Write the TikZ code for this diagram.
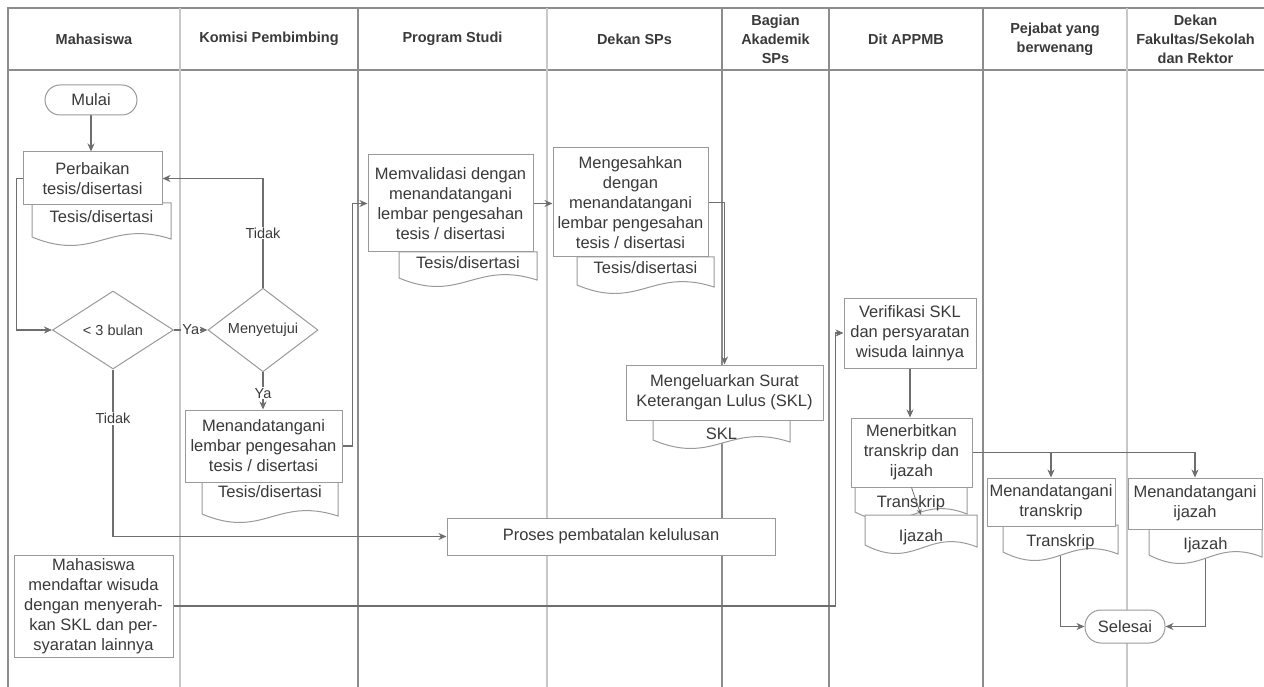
\documentclass[tikz,border=0pt]{standalone}
\usepackage{fontspec}
\setmainfont{Liberation Sans}
\usetikzlibrary{shapes.geometric,arrows.meta,calc}

\pgfdeclarelayer{lanes}
\pgfdeclarelayer{wires}
\pgfdeclarelayer{docs}
\pgfsetlayers{lanes,wires,docs,main}

\definecolor{laneDark}{HTML}{8C8C8C}
\definecolor{laneLight}{HTML}{C8C8C8}
\definecolor{boxLine}{HTML}{9A9A9A}
\definecolor{wire}{HTML}{6E6E6E}
\definecolor{ink}{HTML}{3A3A3A}

\tikzset{
  lanedark/.style={draw=laneDark, line width=1.3pt},
  lanelight/.style={draw=laneLight, line width=1.1pt},
  lanehead/.style={font=\fontsize{14.5}{19}\selectfont\bfseries, text=ink, align=center, inner sep=0pt},
  procbox/.style={draw=boxLine, fill=white, line width=1pt, inner sep=0pt, align=center,
                  text=ink, font=\fontsize{16.5}{20}\selectfont},
  terminal/.style={procbox, rounded corners=15pt},
  decision/.style={diamond, draw=boxLine, fill=white, line width=1pt, inner sep=0pt,
                   text=ink, font=\fontsize{14.5}{18}\selectfont},
  docline/.style={draw=boxLine, fill=white, line width=1pt},
  doctext/.style={text=ink, font=\fontsize{16.5}{20}\selectfont, inner sep=1pt},
  flow/.style={draw=wire, line width=1.3pt, -{Stealth[length=8pt,width=7pt,inset=2.5pt]}},
  thinflow/.style={draw=wire, line width=0.8pt, -{Stealth[length=6pt,width=5pt,inset=2pt]}},
  flowlabel/.style={fill=white, text=ink, font=\fontsize{14.5}{18}\selectfont, inner sep=1pt},
}

% document symbol: name, left, top, right, bottom corner, y of the caption
\newcommand\paperdoc[6]{%
  \begin{pgfonlayer}{docs}
    \path[docline] (#2,#3) -- (#4,#3) -- (#4,{#5+2})
      .. controls ({#2+0.55*(#4-#2)},{#5-18}) and ({#2+0.45*(#4-#2)},{#5+26}) .. (#2,#5) -- cycle;
  \end{pgfonlayer}
  \coordinate (#1-n) at ({(#2+#4)/2},#3);
  \node[doctext] (#1) at ({(#2+#4)/2},#6)}

\begin{document}
\begin{tikzpicture}[x=1pt,y=-1pt]
\useasboundingbox (0,0) rectangle (1264,687);

% swimlanes
\begin{pgfonlayer}{lanes}
  \draw[lanedark] (8,687) -- (8,8) -- (1264,8);
  \draw[lanedark] (8,70) -- (1264,70);
  \draw[lanelight] (180,8) -- (180,687);
  \draw[lanedark]  (358,8) -- (358,687);
  \draw[lanelight] (547,8) -- (547,687);
  \draw[lanedark]  (722,8) -- (722,687);
  \draw[lanedark]  (829,8) -- (829,687);
  \draw[lanedark]  (983,8) -- (983,687);
  \draw[lanelight] (1127,8) -- (1127,687);
\end{pgfonlayer}

\node[lanehead] (h1) at (94,39) {Mahasiswa};
\node[lanehead] (h2) at (269,39) {Komisi Pembimbing};
\node[lanehead] (h3) at (452.5,39) {Program Studi};
\node[lanehead] (h4) at (634.5,39) {Dekan SPs};
\node[lanehead] (h5) at (775.5,39) {Bagian\\Akademik\\SPs};
\node[lanehead] (h6) at (906,39) {Dit APPMB};
\node[lanehead] (h7) at (1055,39) {Pejabat yang\\berwenang};
\node[lanehead] (h8) at (1195.5,39) {Dekan\\Fakultas/Sekolah\\dan Rektor};

% Mahasiswa
\node[terminal, minimum width=92, minimum height=30] (mulai) at (91,100) {Mulai};
\node[procbox, minimum width=139, minimum height=53] (perbaikan) at (92.5,178.5) {Perbaikan\\tesis/disertasi};
\paperdoc{d1}{32}{203}{171}{237}{217}{Tesis/disertasi};
\node[decision, minimum width=121, minimum height=78] (bulan) at (113,330) {< 3 bulan};
\node[procbox, minimum width=159, minimum height=102] (mendaftar) at (93.5,606)
  {Mahasiswa\\mendaftar wisuda\\dengan menyerah-\\kan SKL dan per-\\syaratan lainnya};

% Komisi Pembimbing
\node[decision, minimum width=110, minimum height=78] (menyetujui) at (263,330) {Menyetujui};
\node[procbox, minimum width=157, minimum height=72] (ttdkomisi) at (263.5,446)
  {Menandatangani\\lembar pengesahan\\tesis / disertasi};
\paperdoc{d2}{202}{477}{338}{514}{492}{Tesis/disertasi};

% Program Studi
\node[procbox, minimum width=165, minimum height=97] (memvalidasi) at (450.5,203.5)
  {Memvalidasi dengan\\menandatangani\\lembar pengesahan\\tesis / disertasi};
\paperdoc{d3}{399}{252}{537}{278}{263}{Tesis/disertasi};

% Dekan SPs
\node[procbox, minimum width=155, minimum height=109] (mengesahkan) at (630.5,202.5)
  {Mengesahkan\\dengan\\menandatangani\\lembar pengesahan\\tesis / disertasi};
\paperdoc{d4}{577}{257}{714}{285}{268}{Tesis/disertasi};
\node[procbox, minimum width=197, minimum height=55] (mengeluarkan) at (724.5,392.5)
  {Mengeluarkan Surat\\Keterangan Lulus (SKL)};
\paperdoc{d5}{653}{415}{790}{440}{434}{SKL};
\node[procbox, minimum width=328, minimum height=37] (proses) at (611,536.5) {Proses pembatalan kelulusan};

% Dit APPMB
\node[procbox, minimum width=132, minimum height=70] (verifikasi) at (910,333)
  {Verifikasi SKL\\dan persyaratan\\wisuda lainnya};
\node[procbox, minimum width=121, minimum height=69] (menerbitkan) at (911.5,452.5)
  {Menerbitkan\\transkrip dan\\ijazah};
\paperdoc{d6}{855}{483}{967}{512}{503}{Transkrip};
\paperdoc{d7}{865}{515}{977}{545}{537}{Ijazah};

% Pejabat yang berwenang / Dekan Fakultas dan Rektor
\node[procbox, minimum width=128, minimum height=48] (ttdtrans) at (1051,502) {Menandatangani\\transkrip};
\paperdoc{d8}{1003}{525}{1118}{552}{542}{Transkrip};
\node[procbox, minimum width=134, minimum height=51] (ttdijazah) at (1195,503.5) {Menandatangani\\ijazah};
\paperdoc{d9}{1149}{528}{1262}{555}{545}{Ijazah};
\node[terminal, minimum width=80, minimum height=33, rounded corners=16pt] (selesai) at (1125,626.5) {Selesai};

% connectors
\begin{pgfonlayer}{wires}
  \draw[flow] (mulai) -- (mulai |- perbaikan.north);
  \draw[flow] (perbaikan.west) -- ++(-6,0) |- (bulan.west);
  \draw[flow] (bulan.east) -- node[flowlabel]{Ya} (menyetujui.west);
  \draw[flow] (menyetujui.north) |- node[flowlabel, pos=0.25]{Tidak} (perbaikan.east);
  \draw[flow] (menyetujui.south) -- node[flowlabel, pos=0.56]{Ya} (menyetujui.south |- ttdkomisi.north);
  \draw[flow] (ttdkomisi.east) -- ++(10,0) |- (memvalidasi.west);
  \draw[flow] (memvalidasi.east) -- (memvalidasi.east -| mengesahkan.west);
  \draw[flow] (mengesahkan.east) -| (mengeluarkan.north);
  \draw[flow] (bulan.south) |- node[flowlabel, pos=0.146]{Tidak} (proses.west);
  \draw[flow] (mendaftar.east) -| ($(verifikasi.west)+(-8,0)$) -- (verifikasi.west);
  \draw[flow] (verifikasi.south) -- (verifikasi.south |- menerbitkan.north);
  \draw[flow] (menerbitkan.east) -| (ttdtrans.north);
  \draw[flow] (menerbitkan.east) -| (ttdijazah.north);
  \draw[flow] (d8) |- (selesai.west);
  \draw[flow] (d9) |- (selesai.east);
\end{pgfonlayer}
\draw[thinflow] (menerbitkan.south) -- (d7-n);

\end{tikzpicture}
\end{document}
